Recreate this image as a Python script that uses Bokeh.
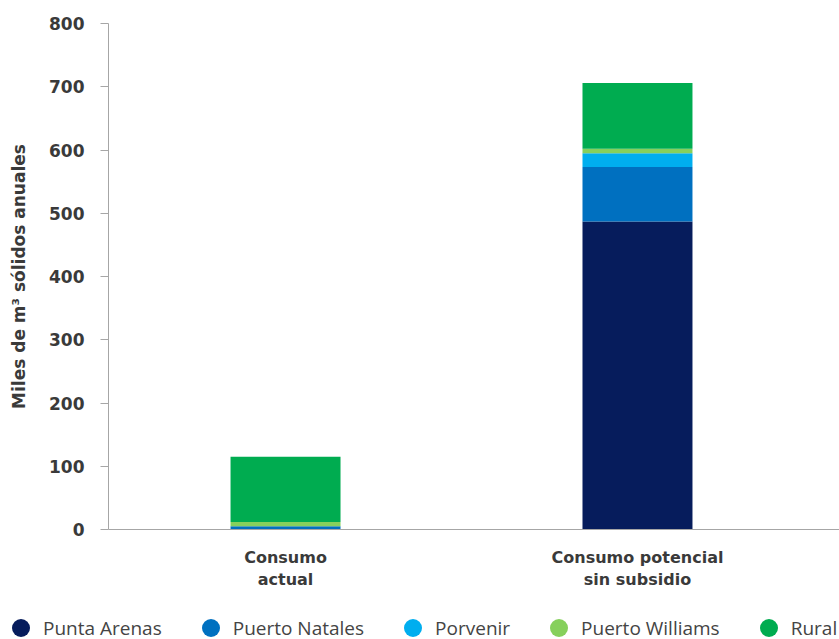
from bokeh.plotting import figure
from bokeh.layouts import column
from bokeh.models import Range1d, Legend, LegendItem, ColumnDataSource, FixedTicker
from bokeh.embed import file_html
from bokeh.resources import INLINE

# ---- data ----
x_pos = [0, 1]
category_labels = ["Consumo\nactual", "Consumo potencial\nsin subsidio"]
series = ["Punta Arenas", "Puerto Natales", "Porvenir", "Puerto Williams", "Rural"]
punta_arenas = [0, 487]
puerto_natales = [5, 86]
porvenir = [0, 22]
puerto_williams = [7, 7]
rural = [103, 104]
colors = ["#061C5C", "#0070C0", "#00AEEF", "#86D05C", "#00AC50"]
y_ticks = [0, 100, 200, 300, 400, 500, 600, 700, 800]

source = ColumnDataSource(dict(
    x=x_pos,
    **{"Punta Arenas": punta_arenas, "Puerto Natales": puerto_natales,
       "Porvenir": porvenir, "Puerto Williams": puerto_williams, "Rural": rural}
))

TXT = "#3a3a3a"
FONT = "DejaVu Sans"

p = figure(width=839, height=605, output_backend="svg", toolbar_location=None,
           x_range=Range1d(-0.503, 1.574), y_range=Range1d(0, 800),
           min_border_left=108, min_border_right=0, min_border_top=23,
           min_border_bottom=76)
p.frame_align = False
p.outline_line_color = None
p.xgrid.grid_line_color = None
p.ygrid.grid_line_color = None

p.vbar_stack(series, x="x", width=0.3125, color=colors, source=source,
             line_color=None)

# y axis
p.yaxis.ticker = FixedTicker(ticks=y_ticks)
p.yaxis.axis_line_color = "#a6a6a6"
p.yaxis.major_tick_line_color = "#a6a6a6"
p.yaxis.major_tick_out = 8
p.yaxis.major_tick_in = 0
p.yaxis.minor_tick_line_color = None
p.yaxis.major_label_standoff = 16
p.yaxis.major_label_text_font = FONT
p.yaxis.major_label_text_font_style = "bold"
p.yaxis.major_label_text_font_size = "17px"
p.yaxis.major_label_text_color = TXT
p.yaxis.axis_label = "Miles de m³ sólidos anuales"
p.yaxis.axis_label_text_font = FONT
p.yaxis.axis_label_text_font_style = "bold"
p.yaxis.axis_label_text_font_size = "17px"
p.yaxis.axis_label_text_color = TXT
p.yaxis.axis_label_standoff = 17

# x axis
p.xaxis.ticker = FixedTicker(ticks=x_pos)
p.xaxis.major_label_overrides = {x: lab for x, lab in zip(x_pos, category_labels)}
p.xaxis.axis_line_color = "#a6a6a6"
p.xaxis.major_tick_line_color = None
p.xaxis.minor_tick_line_color = None
p.xaxis.major_label_standoff = 12
p.xaxis.major_label_text_font = FONT
p.xaxis.major_label_text_font_style = "bold"
p.xaxis.major_label_text_font_size = "16px"
p.xaxis.major_label_text_color = TXT

# legend figure with circle markers
lg = figure(width=839, height=34, output_backend="svg", toolbar_location=None,
            x_range=Range1d(0, 1), y_range=Range1d(0, 1),
            x_axis_location=None, y_axis_location=None,
            min_border_left=0, min_border_right=0, min_border_top=0,
            min_border_bottom=0)
lg.frame_align = False
lg.grid.visible = False
lg.outline_line_color = None
items = []
for name, c in zip(series, colors):
    r = lg.scatter(x=[-10], y=[-10], marker="circle", size=18, fill_color=c,
                   line_color=None)
    items.append(LegendItem(label=name, renderers=[r]))
legend = Legend(items=items, orientation="horizontal", location=(-2, -11),
                glyph_width=45, glyph_height=45, label_standoff=0, spacing=26,
                padding=0, margin=0, border_line_color=None,
                background_fill_alpha=0,
                label_text_font="Open Sans", label_text_font_size="19px",
                label_text_color="#444444")
lg.add_layout(legend, "center")

open("out.html", "w").write(file_html(column(p, lg, spacing=0), INLINE))
